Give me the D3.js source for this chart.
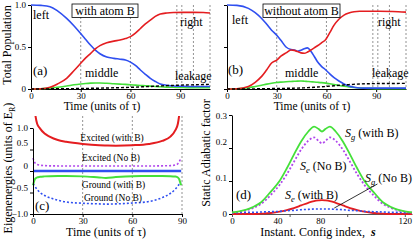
<!DOCTYPE html>
<html>
<head>
<meta charset="utf-8">
<script src="https://cdn.jsdelivr.net/npm/d3@7"></script>
<style>
  body { margin: 0; background: #fff; }
  text { font-family: "Liberation Serif", "Times New Roman", serif; fill: #000; }
</style>
</head>
<body>
<script>
// ---- (a) with atom B: populations vs time
const tA = [0, 6, 11.5, 16, 21.5, 26, 30, 33, 36, 39, 41.6, 45.7, 50, 53.7, 57, 60, 63, 66, 69, 72, 75, 78, 82, 86, 92, 98, 104, 108];
const leftA   = [1.0, 0.995, 0.98, 0.93, 0.84, 0.75, 0.66, 0.59, 0.52, 0.46, 0.42, 0.38, 0.365, 0.355, 0.345, 0.32, 0.28, 0.226, 0.175, 0.127, 0.09, 0.06, 0.045, 0.036, 0.032, 0.03, 0.03, 0.03];
const rightA  = [0, 0.003, 0.02, 0.06, 0.127, 0.22, 0.306, 0.37, 0.425, 0.48, 0.516, 0.55, 0.57, 0.583, 0.6, 0.623, 0.665, 0.72, 0.775, 0.82, 0.865, 0.893, 0.905, 0.91, 0.912, 0.912, 0.91, 0.905];
const middleA = [0, 0.003, 0.01, 0.02, 0.035, 0.05, 0.06, 0.066, 0.07, 0.072, 0.072, 0.068, 0.062, 0.058, 0.055, 0.05, 0.046, 0.042, 0.038, 0.034, 0.03, 0.026, 0.022, 0.02, 0.017, 0.015, 0.015, 0.015];
const leakA   = [0, 0.001, 0.002, 0.003, 0.004, 0.005, 0.006, 0.007, 0.008, 0.009, 0.01, 0.012, 0.014, 0.016, 0.018, 0.02, 0.022, 0.025, 0.028, 0.03, 0.033, 0.036, 0.04, 0.043, 0.047, 0.05, 0.053, 0.055];

// ---- (b) without atom B
const tB = [0, 6, 12.9, 17, 20.9, 24, 26.9, 30, 32.5, 35.6, 38.6, 40.6, 42.6, 44.6, 46.6, 48.6, 50.6, 52.6, 54.6, 57, 59.6, 62, 64.6, 67.5, 70.6, 73.5, 76.7, 80, 86, 92, 100, 108];
const leftB   = [1.0, 0.995, 0.96, 0.91, 0.84, 0.77, 0.7, 0.64, 0.58, 0.5, 0.47, 0.465, 0.45, 0.46, 0.48, 0.49, 0.45, 0.39, 0.325, 0.27, 0.226, 0.18, 0.135, 0.095, 0.06, 0.035, 0.02, 0.012, 0.01, 0.01, 0.01, 0.01];
const rightB  = [0, 0.003, 0.03, 0.08, 0.15, 0.23, 0.31, 0.345, 0.39, 0.43, 0.464, 0.46, 0.445, 0.43, 0.425, 0.44, 0.464, 0.49, 0.515, 0.55, 0.59, 0.67, 0.76, 0.83, 0.88, 0.905, 0.92, 0.925, 0.925, 0.925, 0.922, 0.915];
const middleB = [0, 0.003, 0.015, 0.03, 0.045, 0.058, 0.068, 0.077, 0.082, 0.087, 0.09, 0.092, 0.094, 0.095, 0.093, 0.09, 0.087, 0.083, 0.08, 0.076, 0.07, 0.062, 0.053, 0.043, 0.033, 0.025, 0.018, 0.012, 0.007, 0.005, 0.005, 0.005];
const leakB   = [0, 0, 0.001, 0.002, 0.003, 0.004, 0.005, 0.006, 0.007, 0.008, 0.009, 0.01, 0.011, 0.012, 0.014, 0.016, 0.018, 0.02, 0.023, 0.026, 0.03, 0.034, 0.038, 0.043, 0.048, 0.052, 0.056, 0.06, 0.063, 0.065, 0.066, 0.067];

const markTimes = [30, 60, 88, 91, 98, 108];
const timeTicks = [0, 30, 60, 90];

// ---- (c) eigenenergies
const tC = [0, 0.5, 1, 1.6, 2.5, 4.2, 7, 10, 15, 20, 30, 40, 44, 50, 60, 70, 78, 83, 86, 87.5, 88.3, 89, 89.5];
const excWith  = [3, 2, 1.45, 1.26, 1.1, 0.99, 0.87, 0.8, 0.72, 0.68, 0.63, 0.6, 0.595, 0.59, 0.6, 0.63, 0.7, 0.8, 0.95, 1.1, 1.3, 1.6, 3];
const excNoB   = [0.3, 0.24, 0.2, 0.17, 0.15, 0.135, 0.125, 0.12, 0.118, 0.117, 0.116, 0.115, 0.115, 0.115, 0.116, 0.117, 0.12, 0.125, 0.14, 0.17, 0.21, 0.27, 0.3];
const gndWith  = [-0.33, -0.26, -0.2, -0.17, -0.15, -0.135, -0.125, -0.12, -0.118, -0.118, -0.125, -0.15, -0.16, -0.14, -0.12, -0.118, -0.118, -0.12, -0.13, -0.15, -0.19, -0.28, -0.33];
const gndNoB   = [-0.3, -0.32, -0.34, -0.38, -0.43, -0.5, -0.57, -0.62, -0.68, -0.72, -0.75, -0.765, -0.77, -0.765, -0.745, -0.71, -0.62, -0.52, -0.42, -0.35, -0.31, -0.28, -0.27];
const tRef = [0, 89.5];
const refE = [0, 0];
const energyTicks = [-1, -0.5, 0, 0.5, 1];
const cMarks = [30, 60, 90];

// ---- (d) static adiabatic factor
const sD = [0, 5, 10, 15, 20, 27, 33, 38, 43, 48, 53, 57, 60, 62.5, 65, 68, 72, 77, 82, 87, 92, 98, 105, 110, 115, 120, 125];
const sgWith = [0.005, 0.008, 0.013, 0.022, 0.035, 0.068, 0.10, 0.138, 0.18, 0.22, 0.25, 0.265, 0.258, 0.25, 0.258, 0.265, 0.25, 0.22, 0.18, 0.138, 0.10, 0.068, 0.035, 0.022, 0.013, 0.008, 0.005];
const seNoB  = [0.004, 0.007, 0.011, 0.019, 0.03, 0.058, 0.088, 0.12, 0.158, 0.195, 0.222, 0.232, 0.222, 0.214, 0.222, 0.232, 0.222, 0.195, 0.158, 0.12, 0.088, 0.058, 0.03, 0.019, 0.011, 0.007, 0.004];
const seWith = [0, 0, 0, 0, 0.001, 0.003, 0.007, 0.012, 0.018, 0.026, 0.034, 0.039, 0.041, 0.042, 0.041, 0.039, 0.034, 0.026, 0.018, 0.012, 0.007, 0.003, 0.001, 0, 0, 0, 0];
const sgNoB  = [0.004, 0.004, 0.005, 0.005, 0.006, 0.007, 0.008, 0.01, 0.011, 0.013, 0.014, 0.015, 0.015, 0.015, 0.015, 0.015, 0.014, 0.013, 0.011, 0.01, 0.008, 0.007, 0.006, 0.005, 0.005, 0.004, 0.004];
const sTicks = [0, 40, 80, 120];
const factorTicks = [0, 0.1, 0.2, 0.3];

const col = { red: "#e41d20", blue: "#2f4ff0", green: "#45e03a", purple: "#b046ec" };

const svg = d3.select("body").append("svg").attr("width", 415).attr("height", 241);
svg.append("rect").attr("width", 415).attr("height", 241).attr("fill", "#fff");

function pts(xs, ys) { return xs.map((x, i) => ({ x: x, y: ys[i] })); }

function drawLine(g, sx, sy, xs, ys, color, width, dash) {
  g.append("path")
    .attr("d", d3.line().x(d => sx(d.x)).y(d => sy(d.y)).curve(d3.curveMonotoneX)(pts(xs, ys)))
    .attr("fill", "none")
    .attr("stroke", color)
    .attr("stroke-width", width)
    .attr("stroke-dasharray", dash || null);
}

function vMarks(g, sx, y0, y1, values) {
  g.selectAll(null).data(values).enter().append("line")
    .attr("x1", d => sx(d)).attr("x2", d => sx(d))
    .attr("y1", y0).attr("y2", y1)
    .attr("stroke", "#777").attr("stroke-width", 0.8).attr("stroke-dasharray", "2,2");
}

function styleAxis(a, color) {
  a.attr("font-family", null).attr("font-size", null);
  a.selectAll("text").style("font-size", "9px");
  a.selectAll("path,line").attr("stroke", color || "#000");
}

function xAxis(g, sx, y, ticks, shifts, color) {
  const a = g.append("g").attr("transform", `translate(0,${y})`)
    .call(d3.axisBottom(sx).tickValues(ticks).tickSize(3).tickSizeOuter(0).tickPadding(1));
  styleAxis(a, color);
  if (shifts) a.selectAll(".tick text").attr("dx", d => shifts[d] || 0);
}

function yAxis(g, sy, x, ticks, fmt, shifts) {
  const a = g.append("g").attr("transform", `translate(${x},0)`)
    .call(d3.axisLeft(sy).tickValues(ticks).tickSize(3).tickSizeOuter(0).tickPadding(2).tickFormat(fmt));
  styleAxis(a);
  if (shifts) a.selectAll(".tick text").attr("dy", d => (0.32 + (shifts[d] || 0) / 9) + "em");
}

function label(g, x, y, txt, size, anchor) {
  return g.append("text").attr("x", x).attr("y", y).attr("font-size", size || 12)
    .attr("text-anchor", anchor || "start").text(txt);
}

function boxLabel(g, cx, y, w, txt) {
  g.append("rect").attr("x", cx - w / 2).attr("y", y).attr("width", w).attr("height", 13.5)
    .attr("fill", "#fff").attr("stroke", "#000").attr("stroke-width", 0.8);
  label(g, cx, y + 11, txt, 12, "middle");
}

const popFmt = d => d === 0 ? "0" : d3.format(".1f")(d);

// ---------- panel (a) ----------
const xA = d3.scaleLinear().domain([0, 108]).range([31, 210]);
const yA = d3.scaleLinear().domain([0, 1]).range([89, 5]);
const gA = svg.append("g");
vMarks(gA, xA, yA(1), yA(0), markTimes);
xAxis(gA, xA, yA(0), timeTicks);
yAxis(gA, yA, xA(0), [0, 0.5, 1], popFmt);
drawLine(gA, xA, yA, tA, middleA, col.green, 1.6);
drawLine(gA, xA, yA, tA, leftA, col.blue, 1.6);
drawLine(gA, xA, yA, tA, rightA, col.red, 1.6);
drawLine(gA, xA, yA, tA, leakA, "#000", 1.4, "3,2");
boxLabel(gA, 105, 4, 66, "with atom B");
label(gA, 33, 19, "left");
label(gA, 180, 25.5, "right");
label(gA, 33, 74.5, "(a)", 13);
label(gA, 85, 77, "middle");
label(gA, 175, 80, "leakage");
label(gA, 102, 109.5, "Time (units of \u03c4)", 11.5, "middle");
label(gA, 0, 0, "Total Population", 12, "middle").attr("transform", "translate(11,45) rotate(-90)");

// ---------- panel (b) ----------
const xB = d3.scaleLinear().domain([0, 108]).range([227, 406]);
const yB = d3.scaleLinear().domain([0, 1]).range([89, 5]);
const gB = svg.append("g");
vMarks(gB, xB, yB(1), yB(0), markTimes);
xAxis(gB, xB, yB(0), timeTicks);
yAxis(gB, yB, xB(0), [0, 0.5, 1], () => "");
drawLine(gB, xB, yB, tB, middleB, col.green, 1.6);
drawLine(gB, xB, yB, tB, leftB, col.blue, 1.6);
drawLine(gB, xB, yB, tB, rightB, col.red, 1.6);
drawLine(gB, xB, yB, tB, leakB, "#000", 1.4, "3,2");
boxLabel(gB, 301.5, 4, 77, "without atom B");
label(gB, 232, 23.5, "left");
label(gB, 378, 25.5, "right");
label(gB, 228, 74, "(b)", 13);
label(gB, 285, 77, "middle");
label(gB, 372, 77, "leakage");
label(gB, 312, 109.5, "Time (units of \u03c4)", 11.5, "middle");

// ---------- panel (c) ----------
const xC = d3.scaleLinear().domain([0, 90]).range([33, 182]);
const yC = d3.scaleLinear().domain([-1, 1]).range([214, 128]);
const gC = svg.append("g");
svg.append("clipPath").attr("id", "clipC").append("rect")
  .attr("x", 30).attr("y", 116).attr("width", 156).attr("height", 100);
vMarks(gC, xC, 116, yC(-1), cMarks);
const cLines = gC.append("g").attr("clip-path", "url(#clipC)");
drawLine(cLines, xC, yC, tC, gndNoB, col.blue, 1.6, "2,2");
drawLine(cLines, xC, yC, tC, excNoB, col.purple, 1.6, "2,2");
drawLine(cLines, xC, yC, tRef, refE, col.blue, 2.6);
drawLine(cLines, xC, yC, tC, gndWith, col.green, 2);
drawLine(cLines, xC, yC, tC, excWith, col.red, 2);
xAxis(gC, xC, yC(-1), timeTicks);
yAxis(gC, yC, xC(0), energyTicks, popFmt, { 1: 0, 0.5: -7, 0: -5, "-0.5": -5, "-1": 0 });
label(gC, 112, 141, "Excited (with B)", 9.5, "middle");
label(gC, 111, 160.5, "Excited (No B)", 9.5, "middle");
label(gC, 113.5, 188, "Ground (with B)", 9.5, "middle");
label(gC, 113, 200.5, "Ground (No B)", 9.5, "middle");
label(gC, 35, 210, "(c)", 13);
label(gC, 106, 235.5, "Time (units of \u03c4)", 12, "middle");
const yl = label(gC, 0, 0, "Eigenenergies (units of E", 12, "middle").attr("transform", "translate(12,168) rotate(-90)");
yl.append("tspan").attr("font-size", 8).attr("dy", 3).text("R");
yl.append("tspan").attr("dy", -3).text(")");

// ---------- panel (d) ----------
const xD = d3.scaleLinear().domain([0, 125]).range([232, 412]);
const yD = d3.scaleLinear().domain([0, 0.3]).range([214, 115]);
const gD = svg.append("g");
xAxis(gD, xD, yD(0), sTicks, { 40: -12, 80: -27 }, "#555");
yAxis(gD, yD, xD(0), factorTicks, d => d === 0 ? "0" : d3.format(".1f")(d), { 0.3: 1, 0.2: -6, 0.1: -3 });
drawLine(gD, xD, yD, sD, seWith, col.red, 1.8);
drawLine(gD, xD, yD, sD, sgNoB, col.blue, 1.6, "2,2");
drawLine(gD, xD, yD, sD, seNoB, col.purple, 1.8, "2,2");
drawLine(gD, xD, yD, sD, sgWith, col.green, 1.8);
gD.append("line").attr("x1", xD(71)).attr("y1", yD(0.018)).attr("x2", xD(101)).attr("y2", yD(0.091))
  .attr("stroke", "#000").attr("stroke-width", 0.8);

function sLabel(g, x, y, sub, rest) {
  const t = g.append("text").attr("x", x).attr("y", y).attr("font-size", 12);
  t.append("tspan").attr("font-style", "italic").text("S");
  t.append("tspan").attr("font-style", "italic").attr("font-size", 8.5).attr("dy", 3).text(sub);
  t.append("tspan").attr("dy", -3).text(" " + rest);
}
sLabel(gD, 345, 137, "g", "(with B)");
sLabel(gD, 300, 170, "e", "(No B)");
sLabel(gD, 365, 182, "g", "(No B)");
sLabel(gD, 285, 199, "e", "(with B)");
label(gD, 236, 199, "(d)", 13);
const xl = label(gD, 318, 235.5, "Instant. Config index, ", 12, "middle");
xl.append("tspan").attr("dx", 3).attr("font-weight", "bold").attr("font-style", "italic").text("s");
label(gD, 0, 0, "Static Adiabatic factor", 12, "middle").attr("transform", "translate(210,153) rotate(-90)");
</script>
</body>
</html>
